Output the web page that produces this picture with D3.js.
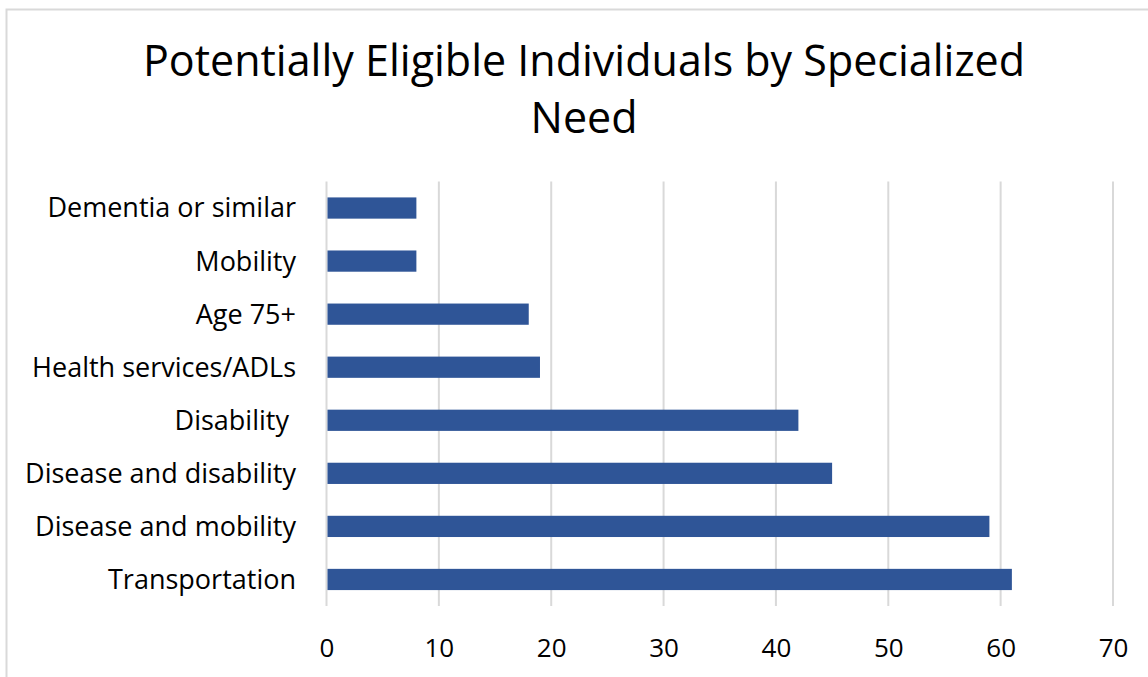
<!DOCTYPE html>
<html>
<head>
<meta charset="utf-8">
<script src="https://cdn.jsdelivr.net/npm/d3@7"></script>
<style>
  html, body { margin: 0; padding: 0; background: #fff; }
  svg { display: block; }
  text { font-family: "Open Sans", "Noto Sans", sans-serif; fill: #000; }
</style>
</head>
<body>
<svg id="chart" width="1148" height="677"></svg>
<script>
const titleLines = ["Potentially Eligible Individuals by Specialized", "Need"];
const categories = ["Dementia or similar", "Mobility", "Age 75+", "Health services/ADLs", "Disability ", "Disease and disability", "Disease and mobility", "Transportation"];
const values = [8, 8, 18, 19, 42, 45, 59, 61];
const tickValues = [0, 10, 20, 30, 40, 50, 60, 70];

const svg = d3.select("#chart");
const W = 1148, H = 677;

// outer chart border
svg.append("rect")
  .attr("x", 6.5).attr("y", 9.5)
  .attr("width", W + 20).attr("height", H + 20)
  .attr("fill", "#fff").attr("stroke", "#d9d9d9").attr("stroke-width", 2);

const x = d3.scaleLinear().domain([0, 70]).range([326.5, 1113]);
const y = d3.scaleBand().domain(categories).range([181.5, 606])
  .paddingInner(0.6).paddingOuter(0.3);

// title
svg.append("g").selectAll("text").data(titleLines).join("text")
  .attr("x", 584)
  .attr("y", (d, i) => 76 + i * 57)
  .attr("text-anchor", "middle")
  .attr("font-size", 43)
  .text(d => d);

// gridlines
svg.append("g").selectAll("line").data(tickValues).join("line")
  .attr("x1", d => x(d)).attr("x2", d => x(d))
  .attr("y1", 181.5).attr("y2", 606)
  .attr("stroke", "#d9d9d9").attr("stroke-width", 2);

// bars
svg.append("g").selectAll("rect").data(values).join("rect")
  .attr("x", x(0) + 1)
  .attr("y", (d, i) => y(categories[i]))
  .attr("width", d => x(d) - x(0) - 1)
  .attr("height", y.bandwidth())
  .attr("fill", "#2F5597");

// x axis (tick labels only)
const xAxis = d3.axisBottom(x).tickValues(tickValues).tickSize(0).tickPadding(0).tickFormat(d3.format("d"));
const gx = svg.append("g").attr("transform", "translate(0,606)").call(xAxis);
gx.select(".domain").remove();
gx.selectAll("text")
  .attr("y", 51).attr("dy", null)
  .attr("font-family", "Open Sans")
  .attr("font-size", 26).attr("fill", "#000");

// y axis (category labels only)
const yAxis = d3.axisLeft(y).tickSize(0).tickPadding(0);
const gy = svg.append("g").attr("transform", "translate(296,0)").call(yAxis);
gy.select(".domain").remove();
gy.selectAll("text")
  .attr("x", 0).attr("dy", "0.35em")
  .attr("font-family", "Open Sans")
  .attr("font-size", 27).attr("fill", "#000")
  .style("white-space", "pre");
</script>
</body>
</html>
